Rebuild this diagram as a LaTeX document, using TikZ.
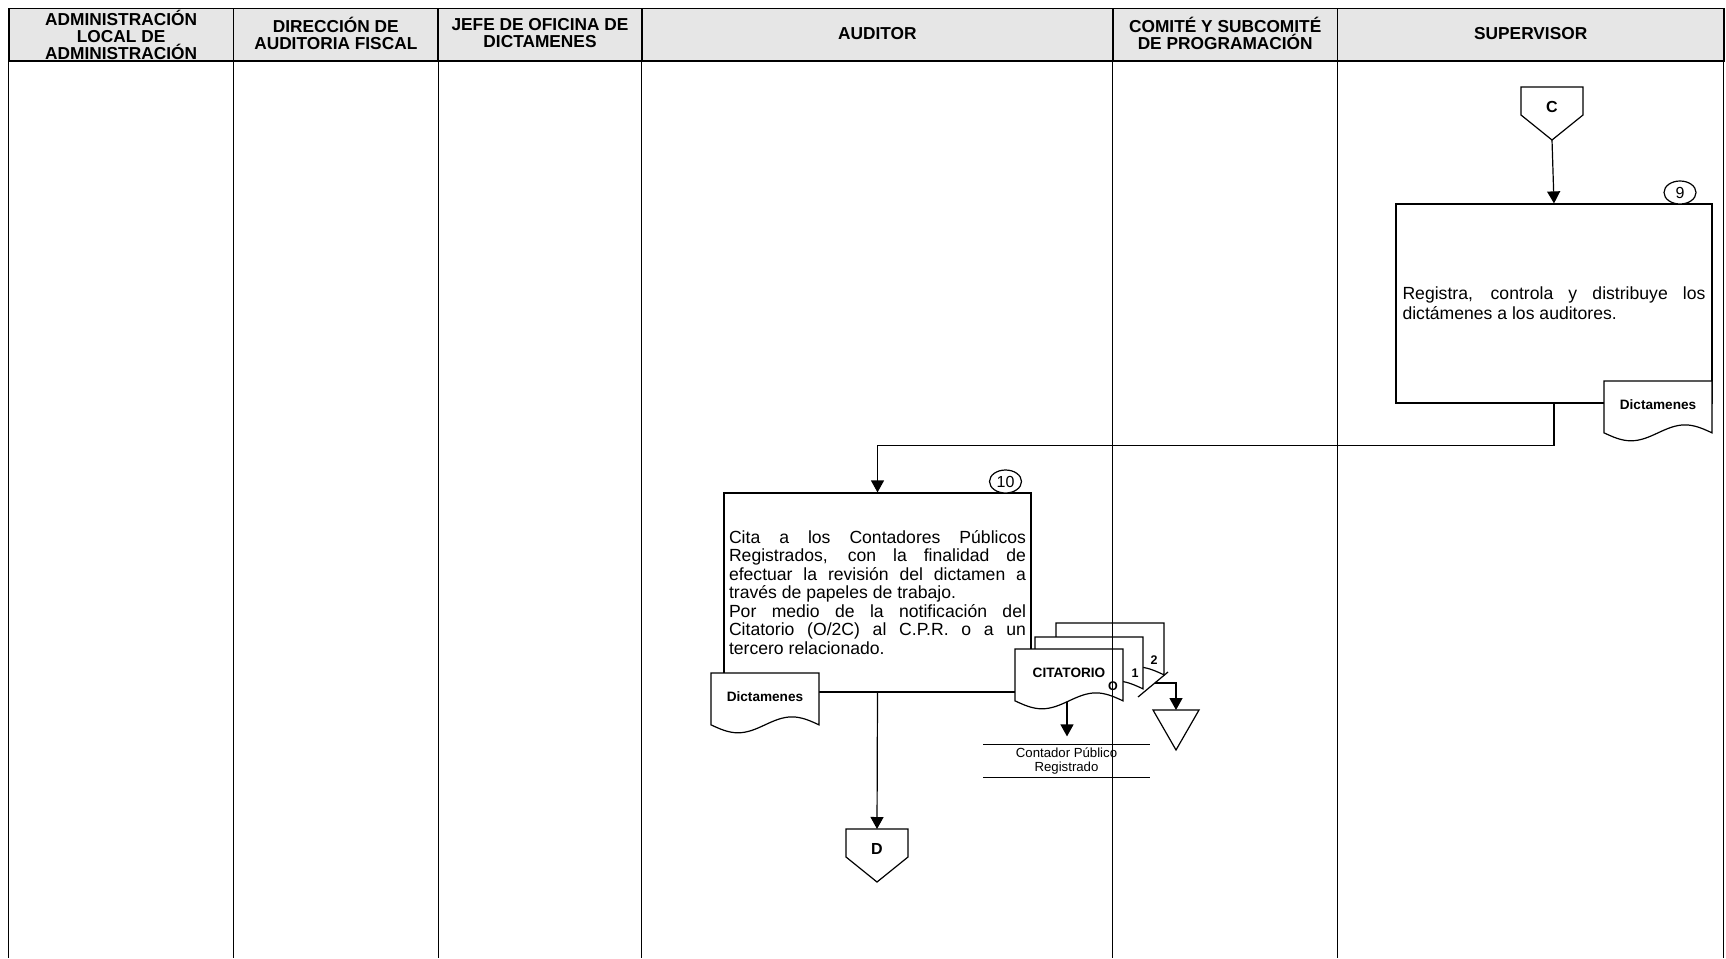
\documentclass[tikz,border=0pt]{standalone}
\usepackage{fontspec}
\setmainfont{Liberation Sans}
\usetikzlibrary{arrows.meta,shapes.geometric}
\definecolor{hdrgray}{RGB}{230,230,230}
\newcommand\mybodyset{\spaceskip=0.278em plus 1.5em minus 0.05em\relax\hyphenpenalty=10000\relax}
\tikzset{
  pics/docu/.style={code={
    \draw[fill=white,line width=1.2pt] (0,0) -- (108,0) -- (108,51.85) sin (81,43.9) cos (54,51.85) sin (27,59.8) cos (0,51.85) -- cycle;
    \node[font=\bfseries\fontsize{13.6}{15}\selectfont] (-t) at (54,24) {#1};
    \coordinate (-b) at (52,53);
  }},
  pics/offpage/.style={code={
    \draw[fill=white,line width=1.2pt] (-31,0) -- (31,0) -- (31,28) -- (0,53) -- (-31,28) -- cycle;
    \node[font=\bfseries\fontsize{16}{18}\selectfont] (-t) at (0,20) {#1};
    \coordinate (-top) at (0,0);
    \coordinate (-tip) at (0,53);
  }},
}
\begin{document}
\begin{tikzpicture}[x=1pt,y=-1pt,line width=1.2pt,
  arr/.style={-{Triangle[length=12pt,width=13pt]}},
  hdr/.style={font=\bfseries\fontsize{17.3}{17}\selectfont, align=center, inner sep=0pt},
  procbox/.style={draw, fill=white, inner sep=0pt, align=justify},
  bodyfont/.style={font=\fontsize{17.6}{#1}\selectfont\mybodyset},
  numell/.style={draw, ellipse, fill=white, minimum width=32pt, minimum height=23pt, inner sep=0pt, font=\fontsize{16}{18}\selectfont},
  lbl/.style={font=\bfseries\fontsize{12.5}{13}\selectfont, inner sep=0pt},
  lane/.style={line width=1.1pt}]
\useasboundingbox (0,0) rectangle (1726,958);
% header
\draw[line width=1.6pt, fill=hdrgray] (8.8,8.5) rectangle (1723.9,61);
\foreach \x in {233.4,438.1,641.8,1112.9,1337.5} \draw[line width=1.6pt] (\x,8.5) -- (\x,61);
\node[hdr] (h1) at (121.1,34.5) {ADMINISTRACIÓN\\LOCAL DE\\ADMINISTRACIÓN};
\node[hdr] (h2) at (335.8,33.5) {DIRECCIÓN DE\\AUDITORIA FISCAL};
\node[hdr] (h3) at (540,33.5) {JEFE DE OFICINA DE\\DICTAMENES};
\node[hdr] (h4) at (877.4,34) {AUDITOR};
\node[hdr] (h5) at (1225.2,33.5) {COMITÉ Y SUBCOMITÉ\\DE PROGRAMACIÓN};
\node[hdr] (h6) at (1530.7,34) {SUPERVISOR};
% supervisor
\pic (C) at (1552,87) {offpage=C};
\node[procbox, bodyfont=20, minimum width=316pt, minimum height=199pt, text width=303pt] (b9) at (1554,303.5)
  {Registra, controla y distribuye los\linebreak dictámenes a los auditores.};
\node[numell] (n9) at (1680,192.5) {9};
\pic (d9) at (1604,381) {docu=Dictamenes};
\draw[arr] (C-tip) -- (b9.north);
% auditor
\node[procbox, bodyfont=18.5, minimum width=307pt, minimum height=199pt, text width=297pt] (b10) at (877.5,592.5)
  {Cita a los Contadores Públicos\linebreak Registrados, con la finalidad de\linebreak efectuar la revisión del dictamen a\linebreak través de papeles de trabajo.\par Por medio de la notificación del\linebreak Citatorio (O/2C) al C.P.R. o a un\linebreak tercero relacionado.};
\node[numell] (n10) at (1005.5,481.5) {10};
\draw[arr] (b9.south) -- ++(0,42) -| (b10.north);
\pic (d10) at (711,673) {docu=Dictamenes};
\pic (cit3) at (1056,623) {docu={}};
\pic (cit2) at (1035,637) {docu={}};
\pic (cit1) at (1015,649) {docu=CITATORIO};
\node[lbl] (lo) at (1113,686) {O};
\node[lbl] (l1) at (1135,673) {1};
\node[lbl] (l2) at (1154,660) {2};
\coordinate (s1) at (1138,697);
\coordinate (s2) at (1168,672);
\draw (s1) -- (s2);
\coordinate (sm) at (1155,683);
\coordinate (arch) at (1176,710);
\draw (1153,710) -- (1199,710) -- (1176,750) -- cycle;
\draw[arr] (sm) -- (sm -| arch) -- (arch);
\node[font=\fontsize{13.2}{14}\selectfont, align=center, minimum width=165pt, minimum height=32pt, inner sep=0pt] (cpr) at (1066.5,761) {Contador Público\\Registrado};
\draw (cpr.north west) -- (cpr.north east);
\draw (cpr.south west) -- (cpr.south east);
\draw[arr, shorten >=8pt] (cit1-b) -- (cit1-b |- cpr.north);
\pic (D) at (877,829) {offpage=D};
\draw[arr] (b10.south) -- (D-top);
% lanes
\foreach \x in {8.8,233.4,438.1,641.8,1112.9,1337.5,1723.9} \draw[lane] (\x,61) -- (\x,958);
\end{tikzpicture}
\end{document}
